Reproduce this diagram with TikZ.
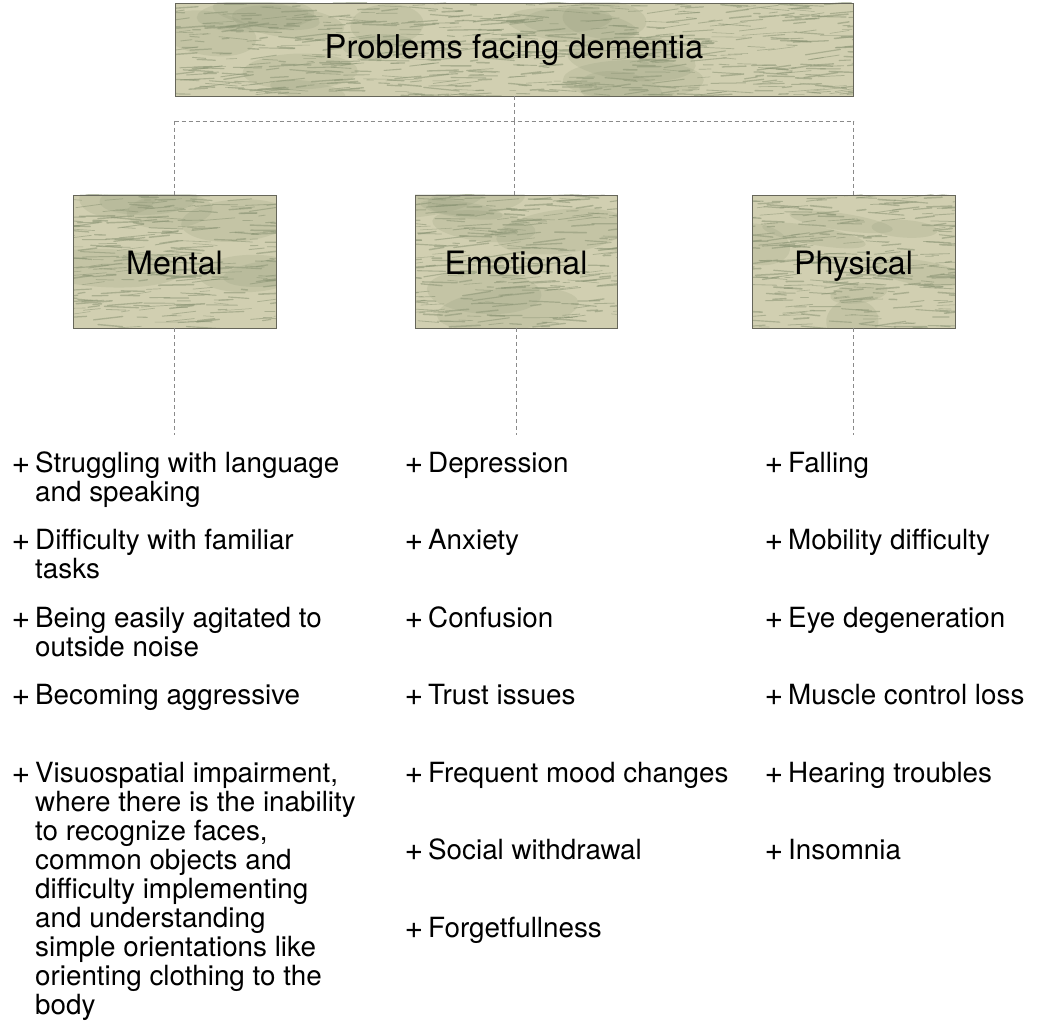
\documentclass[tikz,border=0pt]{standalone}
\usepackage{fontspec}
\setmainfont{TeX Gyre Heros}
\definecolor{basec}{HTML}{D1CFB1}
\definecolor{strokec}{HTML}{8A9474}
\definecolor{edgec}{HTML}{66665A}
\definecolor{dashc}{HTML}{8A8A8A}
\tikzset{
  headbox/.style={draw=edgec, line width=0.8pt, inner sep=0pt, text=black, text depth=0pt},
  conn/.style={draw=dashc, line width=0.9pt, dash pattern=on 4pt off 3pt},
  itemtext/.style={anchor=base west, inner sep=0pt, font=\fontsize{27.8}{29}\selectfont, text=black},
}
\newcommand\texturefill[4]{%
  \begin{scope}
    \clip (#1,#2) rectangle (#3,#4);
    \fill[basec] (#1,#2) rectangle (#3,#4);
    \pgfmathsetmacro\tw{#3-#1}
    \pgfmathsetmacro\th{#4-#2}
    \pgfmathtruncatemacro\nb{(\tw/50)*(\th/100)+2}
    \foreach \k in {1,...,\nb}{
      \pgfmathsetmacro\xx{#1+rnd*\tw}
      \pgfmathsetmacro\yy{#2+rnd*\th}
      \pgfmathsetmacro\rx{25+rnd*50}
      \pgfmathsetmacro\ry{8+rnd*16}
      \pgfmathsetmacro\rr{-10+rnd*20}
      \fill[strokec, opacity=0.18] (\xx,\yy) ellipse [x radius=\rx, y radius=\ry, rotate=\rr];
    }
    \pgfmathtruncatemacro\nn{(\tw/11)*(\th/9)}
    \foreach \k in {1,...,\nn}{
      \pgfmathsetmacro\xx{#1-25+rnd*(\tw+25)}
      \pgfmathsetmacro\yy{#2+rnd*\th}
      \pgfmathsetmacro\ll{6+rnd*30}
      \pgfmathsetmacro\aa{-9+rnd*15}
      \pgfmathsetmacro\ww{0.5+rnd*1.1}
      \draw[strokec, opacity=0.55, line width=\ww pt, line cap=round] (\xx,\yy) -- ++(\aa:\ll);
    }
  \end{scope}}
\newcommand\itm[4]{%
  \node[itemtext] (#1) at (#2,#3) {\makebox[23.5pt][l]{\raisebox{-1.2pt}{\fontsize{32}{29}\selectfont +}}\parbox[t]{330pt}{\raggedright #4}};}
\begin{document}
\begin{tikzpicture}[x=1pt,y=-1pt]
\useasboundingbox (0,0) rectangle (1046,1024);
\pgfmathsetseed{11}
% textures
\texturefill{175}{3}{853}{96}
\texturefill{73}{195}{276}{328}
\texturefill{415}{195}{617}{328}
\texturefill{752}{195}{955}{328}
% heading boxes
\node[headbox, minimum width=678pt, minimum height=93pt, text height=19pt, font=\fontsize{32.8}{34}\selectfont] (top) at (514,49.5) {Problems facing dementia};
\node[headbox, minimum width=203pt, minimum height=133pt, text height=25pt, font=\fontsize{32.2}{34}\selectfont] (mental) at (174.5,261.5) {Mental};
\node[headbox, minimum width=202pt, minimum height=133pt, text height=25pt, font=\fontsize{32.2}{34}\selectfont] (emo) at (516,261.5) {Emotional};
\node[headbox, minimum width=203pt, minimum height=133pt, text height=25pt, font=\fontsize{32.2}{34}\selectfont] (phys) at (853.5,261.5) {Physical};
% connectors
\coordinate (hl) at (mental.north |- 0,121);
\coordinate (hm) at (top.south |- 0,121);
\coordinate (hr) at (phys.north |- 0,121);
\coordinate (me) at (mental.south |- 0,435);
\coordinate (ee) at (emo.south |- 0,435);
\coordinate (pe) at (phys.south |- 0,435);
\draw[conn] (top.south) -- (hm);
\draw[conn] (hl) -- (hr);
\draw[conn] (hl) -- (mental.north);
\draw[conn] (hm) -- (hm |- emo.north);
\draw[conn] (hr) -- (phys.north);
\draw[conn] (mental.south) -- (me);
\draw[conn] (emo.south) -- (ee);
\draw[conn] (phys.south) -- (pe);
% mental items
\itm{m1}{11.5}{472}{Struggling with language\\and speaking}
\itm{m2}{11.5}{549.5}{Difficulty with familiar\\tasks}
\itm{m3}{11.5}{627}{Being easily agitated to\\outside noise}
\itm{m4}{11.5}{704.5}{Becoming aggressive}
\itm{m5}{11.5}{782}{Visuospatial impairment,\\where there is the inability\\to recognize faces,\\common objects and\\difficulty implementing\\and understanding\\simple orientations like\\orienting clothing to the\\body}
% emotional items
\itm{e1}{404.5}{472}{Depression}
\itm{e2}{404.5}{549.5}{Anxiety}
\itm{e3}{404.5}{627}{Confusion}
\itm{e4}{404.5}{704.5}{Trust issues}
\itm{e5}{404.5}{782}{Frequent mood changes}
\itm{e6}{404.5}{859.5}{Social withdrawal}
\itm{e7}{404.5}{937}{Forgetfullness}
% physical items
\itm{p1}{764.5}{472}{Falling}
\itm{p2}{764.5}{549.5}{Mobility difficulty}
\itm{p3}{764.5}{627}{Eye degeneration}
\itm{p4}{764.5}{704.5}{Muscle control loss}
\itm{p5}{764.5}{782}{Hearing troubles}
\itm{p6}{764.5}{859.5}{Insomnia}
\end{tikzpicture}
\end{document}
